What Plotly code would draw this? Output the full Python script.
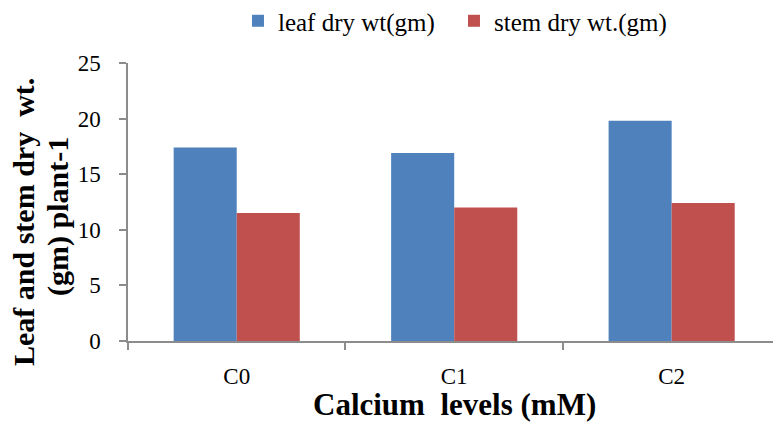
import plotly.graph_objects as go

# Calcium treatment levels and measured dry weights (gm per plant)
levels = ["C0", "C1", "C2"]
leaf_dry_wt = [17.4, 16.9, 19.8]
stem_dry_wt = [11.5, 12.0, 12.4]
y_ticks = [0, 5, 10, 15, 20, 25]

SERIF = "Liberation Serif"
AXIS_GREY = "#8c8c8c"

fig = go.Figure()
fig.add_trace(go.Bar(
    x=levels, y=leaf_dry_wt, name="leaf dry wt(gm)",
    marker=dict(color="#4F81BD", line=dict(width=0)),
))
fig.add_trace(go.Bar(
    x=levels, y=stem_dry_wt, name="stem dry wt.(gm)",
    marker=dict(color="#C0504D", line=dict(width=0)),
))

fig.update_layout(
    width=773, height=433,
    margin=dict(l=128, r=0, t=63, b=92, autoexpand=False),
    paper_bgcolor="white", plot_bgcolor="white",
    barmode="group", bargap=0.42, bargroupgap=0,
    font=dict(family=SERIF, color="black", size=23),
    showlegend=True,
    legend=dict(
        orientation="h", x=0.1705, y=1.151, xanchor="left", yanchor="middle",
        font=dict(family=SERIF, size=25), itemwidth=30,
        entrywidth=171, entrywidthmode="pixels",
        traceorder="normal", bgcolor="rgba(0,0,0,0)",
    ),
    xaxis=dict(
        range=[-0.5, 2.466],
        showline=True, linecolor=AXIS_GREY, linewidth=2,
        ticks="outside", tickson="boundaries", ticklen=7, tickcolor=AXIS_GREY, tickwidth=1.5,
        showgrid=False, zeroline=False,
        tickfont=dict(family=SERIF, size=23),
        ticklabelstandoff=13,
    ),
    yaxis=dict(
        range=[0, 25], tickvals=y_ticks,
        showline=True, linecolor=AXIS_GREY, linewidth=1.5,
        ticks="outside", ticklen=7, tickcolor=AXIS_GREY, tickwidth=1.5,
        showgrid=False, zeroline=False,
        tickfont=dict(family=SERIF, size=23),
        ticklabelstandoff=14,
    ),
)

# Axis titles drawn as annotations at fixed pixel positions around the plot area
PLOT_LEFT, PLOT_W, PLOT_BOTTOM, PLOT_H = 128, 645, 341, 278


def px_x(px):
    return (px - PLOT_LEFT) / PLOT_W


def px_y(py):
    return (PLOT_BOTTOM - py) / PLOT_H


fig.add_annotation(
    text="<b>Calcium  levels (mM)</b>", xref="paper", yref="paper",
    x=px_x(454), y=px_y(404), xanchor="center", yanchor="middle",
    showarrow=False, font=dict(family=SERIF, size=31),
)

# Rotated two-line y-axis title, one annotation per line
for text, cx, cy in [("<b>Leaf and stem dry  wt.</b>", 23, 222), ("<b>(gm) plant-1</b>", 58, 217)]:
    fig.add_annotation(
        text=text, xref="paper", yref="paper",
        x=px_x(cx), y=px_y(cy),
        xanchor="center", yanchor="middle", textangle=-90,
        showarrow=False, font=dict(family=SERIF, size=30),
    )

fig.write_html("out.html")
